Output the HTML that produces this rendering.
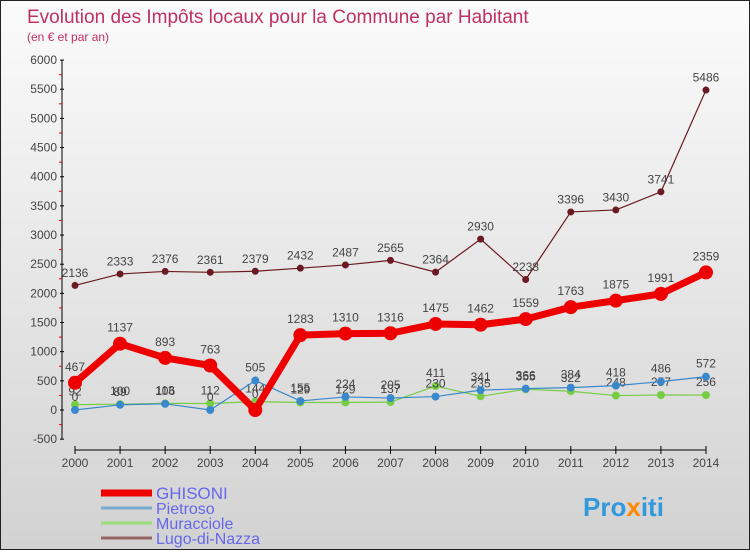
<!DOCTYPE html>
<html><head><meta charset="utf-8"><style>
body{margin:0;width:750px;height:550px;overflow:hidden;font-family:"Liberation Sans",sans-serif}
#wrap{position:relative;width:748px;height:548px;border:1px solid #222;background:linear-gradient(#fbfbfb,#d2d2d2)}
</style></head><body>
<div id="wrap">
<svg id="chart" width="748" height="548">
<text x="26" y="22" font-size="19" fill="#c03060">Evolution des Impôts locaux pour la Commune par Habitant</text>
<text x="26" y="40" font-size="12" fill="#c03060">(en € et par an)</text>
<g id="axes"></g><g id="series"></g><g id="legend"></g>
<text x="582" y="515" font-size="26" font-weight="bold" fill="#3399dd">Pro<tspan fill="#ff8800">x</tspan>iti</text>
</svg></div>
<script>
const years=[2000,2001,2002,2003,2004,2005,2006,2007,2008,2009,2010,2011,2012,2013,2014];
const yTicks=[-500,0,500,1000,1500,2000,2500,3000,3500,4000,4500,5000,5500,6000];
const ghisoni=[467,1137,893,763,0,1283,1310,1316,1475,1462,1559,1763,1875,1991,2359];
const pietroso=[0,89,106,0,505,155,224,205,230,341,366,384,418,486,572];
const muracciole=[92,100,113,112,144,129,129,137,411,235,355,322,248,257,256];
const lugo=[2136,2333,2376,2361,2379,2432,2487,2565,2364,2930,2238,3396,3430,3741,5486];
const NS="http://www.w3.org/2000/svg";
function x(i){return 74+i*45.07;}
function y(v){return 409-v*0.05832;}
function mk(t,a,p){const e=document.createElementNS(NS,t);for(const k in a)e.setAttribute(k,a[k]);(p||document.getElementById('series')).appendChild(e);return e;}
const ax=document.getElementById('axes');
let e=mk('line',{x1:61,y1:y(6000),x2:61,y2:y(-500),stroke:'#000'},ax);

e=mk('line',{x1:74,y1:449,x2:x(14),y2:449,stroke:'#000'},ax);

yTicks.forEach(v=>{mk('line',{x1:59,y1:y(v),x2:63,y2:y(v),stroke:'#000'},ax);
 if(v<6000)mk('line',{x1:58,y1:y(v+250),x2:61,y2:y(v+250),stroke:'#e00'},ax);
 const t=mk('text',{x:56,y:y(v)+4,'font-size':12,'text-anchor':'end',fill:'#444'},ax);t.textContent=v;
 });
years.forEach((yr,i)=>{mk('line',{x1:x(i),y1:445,x2:x(i),y2:453,stroke:'#000'},ax);
 const t=mk('text',{x:x(i),y:466,'font-size':12,'text-anchor':'middle',fill:'#444'},ax);t.textContent=yr;
 });
function series(d,col,w,r,name){
 const pl=mk('polyline',{points:d.map((v,i)=>x(i)+','+y(v)).join(' '),fill:'none',stroke:col,'stroke-width':w,'stroke-linejoin':'round'});
 
 d.forEach((v,i)=>{const c=mk('circle',{cx:x(i),cy:y(v),r:r,fill:col});
  
  const t=mk('text',{x:x(i),y:y(v)-r-5,'font-size':12,'text-anchor':'middle',fill:'#444'});t.textContent=v;
  });
}
series(lugo,'#6b1a22',1.2,3.5,'lugo-di-nazza');
series(muracciole,'#77cc44',1.2,4,'muracciole');
series(pietroso,'#3a88cc',1.2,4,'pietroso');
series(ghisoni,'#ee0000',7,7,'ghisoni');
const lg=document.getElementById('legend');
const names=['GHISONI','Pietroso','Muracciole','Lugo-di-Nazza'];
const cols=['#ee0000','#7aaacc','#99dd77','#996666'];
const ws=[7,3,3,3];
names.forEach((n,i)=>{const yy=492+i*15;
 const l=mk('line',{x1:100,y1:yy,x2:151,y2:yy,stroke:cols[i],'stroke-width':ws[i]},lg);
 
 const t=mk('text',{x:155,y:yy+6,'font-size':i==0?17:16,fill:'#6666ee'},lg);t.textContent=n;
 });
</script></body></html>
